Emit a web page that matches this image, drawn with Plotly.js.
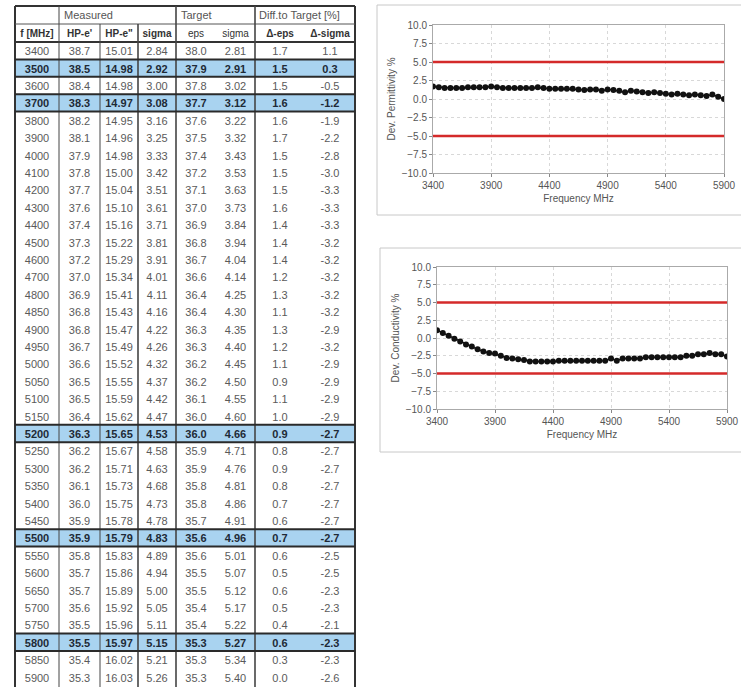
<!DOCTYPE html>
<html>
<head>
<meta charset="utf-8">
<script src="https://cdn.plot.ly/plotly-3.0.1.min.js"></script>
<style>html,body{margin:0;padding:0;background:#fff;}#chart{width:741px;height:687px;}</style>
</head>
<body>
<div id="chart"></div>
<script>
// ---------- Table data ----------
const freqs = [3400,3500,3600,3700,3800,3900,4000,4100,4200,4300,4400,4500,4600,4700,4800,
  4850,4900,4950,5000,5050,5100,5150,5200,5250,5300,5350,5400,5450,5500,5550,5600,5650,5700,5750,5800,5850,5900];
const hpE1 = [38.7,38.5,38.4,38.3,38.2,38.1,37.9,37.8,37.7,37.6,37.4,37.3,37.2,37.0,36.9,
  36.8,36.8,36.7,36.6,36.5,36.5,36.4,36.3,36.2,36.2,36.1,36.0,35.9,35.9,35.8,35.7,35.7,35.6,35.5,35.5,35.4,35.3];
const hpE2 = [15.01,14.98,14.98,14.97,14.95,14.96,14.98,15.00,15.04,15.10,15.16,15.22,15.29,15.34,15.41,
  15.43,15.47,15.49,15.52,15.55,15.59,15.62,15.65,15.67,15.71,15.73,15.75,15.78,15.79,15.83,15.86,15.89,15.92,15.96,15.97,16.02,16.03];
const sigmaMeas = [2.84,2.92,3.00,3.08,3.16,3.25,3.33,3.42,3.51,3.61,3.71,3.81,3.91,4.01,4.11,
  4.16,4.22,4.26,4.32,4.37,4.42,4.47,4.53,4.58,4.63,4.68,4.73,4.78,4.83,4.89,4.94,5.00,5.05,5.11,5.15,5.21,5.26];
const epsTarget = [38.0,37.9,37.8,37.7,37.6,37.5,37.4,37.2,37.1,37.0,36.9,36.8,36.7,36.6,36.4,
  36.4,36.3,36.3,36.2,36.2,36.1,36.0,36.0,35.9,35.9,35.8,35.8,35.7,35.6,35.6,35.5,35.5,35.4,35.4,35.3,35.3,35.3];
const sigmaTarget = [2.81,2.91,3.02,3.12,3.22,3.32,3.43,3.53,3.63,3.73,3.84,3.94,4.04,4.14,4.25,
  4.30,4.35,4.40,4.45,4.50,4.55,4.60,4.66,4.71,4.76,4.81,4.86,4.91,4.96,5.01,5.07,5.12,5.17,5.22,5.27,5.34,5.40];
const dEps = [1.7,1.5,1.5,1.6,1.6,1.7,1.5,1.5,1.5,1.6,1.4,1.4,1.4,1.2,1.3,
  1.1,1.3,1.2,1.1,0.9,1.1,1.0,0.9,0.8,0.9,0.8,0.7,0.6,0.7,0.6,0.5,0.6,0.5,0.4,0.6,0.3,0.0];
const dSigma = [1.1,0.3,-0.5,-1.2,-1.9,-2.2,-2.8,-3.0,-3.3,-3.3,-3.3,-3.2,-3.2,-3.2,-3.2,
  -3.2,-2.9,-3.2,-2.9,-2.9,-2.9,-2.9,-2.7,-2.7,-2.7,-2.7,-2.7,-2.7,-2.7,-2.5,-2.5,-2.3,-2.3,-2.1,-2.3,-2.3,-2.6];
const highlightFreqs = [3500,3700,5200,5500,5800];
const headerLabels = ["f\u00a0[MHz]","HP-e'","HP-e\"","sigma","eps","sigma","Δ-eps","Δ-sigma"];
const headerBold = [true,true,true,true,false,false,true,true];
const groupLabels = ["Measured","Target","Diff.to Target [%]"];

// ---------- Chart data (50 MHz steps) ----------
const chartFreq = [3400,3450,3500,3550,3600,3650,3700,3750,3800,3850,3900,3950,4000,4050,4100,4150,4200,4250,4300,4350,
  4400,4450,4500,4550,4600,4650,4700,4750,4800,4850,4900,4950,5000,5050,5100,5150,5200,5250,5300,5350,
  5400,5450,5500,5550,5600,5650,5700,5750,5800,5850,5900];
const devPermittivity = [1.7,1.6,1.5,1.5,1.5,1.5,1.6,1.6,1.6,1.6,1.7,1.6,1.5,1.5,1.5,1.5,1.5,1.5,1.6,1.5,
  1.4,1.4,1.4,1.4,1.4,1.3,1.2,1.3,1.3,1.1,1.3,1.2,1.1,0.9,1.1,1.0,0.9,0.8,0.9,0.8,
  0.7,0.6,0.7,0.6,0.5,0.6,0.5,0.4,0.6,0.3,0.0];
const devConductivity = [1.1,0.7,0.3,-0.1,-0.5,-0.9,-1.2,-1.6,-1.9,-2.1,-2.2,-2.5,-2.8,-2.9,-3.0,-3.1,-3.3,-3.3,-3.3,-3.3,
  -3.3,-3.2,-3.2,-3.2,-3.2,-3.2,-3.2,-3.2,-3.2,-3.2,-2.9,-3.2,-2.9,-2.9,-2.9,-2.9,-2.7,-2.7,-2.7,-2.7,
  -2.7,-2.7,-2.7,-2.5,-2.5,-2.3,-2.3,-2.1,-2.3,-2.3,-2.6];
const limitX = [3400, 5900];
const upperLimit = [5, 5];
const lowerLimit = [-5, -5];

// ---------- geometry helpers ----------
const W = 741, H = 687;
const X = px => px / W;
const Y = py => 1 - py / H;
const colEdges = [15, 59, 100, 138, 176, 216, 255, 305, 355];
const textLift = 3;                 // table text sits low in its cell; lift table so text is centred in the bands
const bandTop = 24, headH = 18, rowH = 17.4;
const dataTop = bandTop + headH;    // visual top of data rows
const FONT = "Liberation Sans, Arial, sans-serif";

const isHi = freqs.map(f => highlightFreqs.includes(f));
const fmt = (arr, d) => arr.map(v => (d === 0 ? String(v) : v.toFixed(d)));
const cols = [fmt(freqs,0), fmt(hpE1,1), fmt(hpE2,2), fmt(sigmaMeas,2), fmt(epsTarget,1), fmt(sigmaTarget,2), fmt(dEps,1), fmt(dSigma,1)];
const fontCol = cols.map(() => isHi.map(h => h ? "#1e2a36" : "#5a5a5a"));
const fontW = cols.map(() => isHi.map(h => h ? "bold" : "normal"));
const colWidths = colEdges.slice(1).map((e, i) => e - colEdges[i]);

const tableTrace = {
  type: "table",
  domain: {x: [X(colEdges[0]), X(colEdges[8])], y: [0, Y(bandTop - textLift)]},
  columnwidth: colWidths,
  header: {
    values: headerLabels,
    height: headH,
    align: "center",
    fill: {color: "rgba(0,0,0,0)"},
    line: {color: "rgba(0,0,0,0)", width: 0},
    font: {family: FONT, size: 10, color: "#333", weight: headerBold.map(b => b ? "bold" : "normal")}
  },
  cells: {
    values: cols,
    height: rowH,
    align: "center",
    fill: {color: "rgba(0,0,0,0)"},
    line: {color: "rgba(0,0,0,0)", width: 0},
    font: {family: FONT, size: 11, color: fontCol, weight: fontW}
  }
};

const lineStyle = {color: "#111", width: 1.5};
const mk = {color: "#111", size: 6, symbol: "circle"};
const red = {color: "#d42a2a", width: 2.5};

const traces = [
  tableTrace,
  {type: "scatter", mode: "lines", x: limitX, y: upperLimit, line: red, xaxis: "x", yaxis: "y", hoverinfo: "skip"},
  {type: "scatter", mode: "lines", x: limitX, y: lowerLimit, line: red, xaxis: "x", yaxis: "y", hoverinfo: "skip"},
  {type: "scatter", mode: "lines+markers", x: chartFreq, y: devPermittivity, line: lineStyle, marker: mk, xaxis: "x", yaxis: "y"},
  {type: "scatter", mode: "lines", x: limitX, y: upperLimit, line: red, xaxis: "x2", yaxis: "y2", hoverinfo: "skip"},
  {type: "scatter", mode: "lines", x: limitX, y: lowerLimit, line: red, xaxis: "x2", yaxis: "y2", hoverinfo: "skip"},
  {type: "scatter", mode: "lines+markers", x: chartFreq, y: devConductivity, line: lineStyle, marker: mk, xaxis: "x2", yaxis: "y2"}
];

const xAx = (dom, anchor) => ({
  domain: dom, anchor: anchor, range: [3400, 5900], tick0: 3400, dtick: 500,
  showgrid: true, gridcolor: "#d8d8d8", griddash: "dot", zeroline: false,
  showline: true, linecolor: "#aaaaaa", linewidth: 1, mirror: true,
  ticks: "outside", ticklen: 3, tickcolor: "#888",
  tickfont: {family: FONT, size: 10, color: "#555"},
  title: {text: "Frequency MHz", font: {family: FONT, size: 10, color: "#555"}, standoff: 4}
});
const yAx = (dom, anchor, title) => ({
  domain: dom, anchor: anchor, range: [-10, 10], tick0: -10, dtick: 2.5, tickformat: ".1f",
  showgrid: true, gridcolor: "#d8d8d8", griddash: "dot", zeroline: false,
  showline: true, linecolor: "#aaaaaa", linewidth: 1, mirror: true,
  ticks: "outside", ticklen: 3, tickcolor: "#888",
  tickfont: {family: FONT, size: 10, color: "#555"},
  title: {text: title, font: {family: FONT, size: 10, color: "#555"}, standoff: 4}
});

// ---------- table fills, lines & chart frames (shapes) ----------
const shapes = [];
const ln = (x0, y0, x1, y1, w, c) => shapes.push({type: "line", xref: "paper", yref: "paper",
  x0: X(x0), y0: Y(y0), x1: X(x1), y1: Y(y1), line: {color: c || "#333", width: w}});
const bottom = 700;
// highlight fills (behind the table text)
freqs.forEach((f, i) => {
  if (isHi[i]) {
    const t = dataTop + i * rowH, b = t + rowH;
    shapes.push({type: "rect", xref: "paper", yref: "paper", layer: "below",
      x0: X(15), x1: X(355), y0: Y(b), y1: Y(t), fillcolor: "#a9d3f0", line: {width: 0}});
  }
});
ln(15, 6, 355, 6, 2); ln(15, 6, 15, bottom, 2); ln(355, 6, 355, bottom, 2);
ln(15, bandTop, 355, bandTop, 1, "#555");
ln(15, dataTop, 355, dataTop, 2);
[59, 176, 255].forEach(x => ln(x, 6, x, bottom, x === 59 ? 1 : 1.6, "#444"));
[100, 138].forEach(x => ln(x, bandTop, x, bottom, x === 138 ? 1.6 : 1, "#444"));
freqs.forEach((f, i) => {
  if (isHi[i]) {
    const t = dataTop + i * rowH, b = t + rowH;
    ln(15, t, 355, t, 2, "#2a2a2a");
    ln(15, b, 355, b, 2, "#2a2a2a");
  }
});
shapes.push({type: "rect", xref: "paper", yref: "paper", x0: X(377), x1: X(760), y0: Y(215), y1: Y(5), line: {color: "#c8c8c8", width: 1}});
shapes.push({type: "rect", xref: "paper", yref: "paper", x0: X(380), x1: X(760), y0: Y(452), y1: Y(248), line: {color: "#c8c8c8", width: 1}});

const groupX = [62, 179, 257];
const annotations = groupLabels.map((t, i) => ({
  xref: "paper", yref: "paper", x: X(groupX[i]), y: Y(15), xanchor: "left", yanchor: "middle",
  text: t, showarrow: false, font: {family: FONT, size: 11, color: "#555"}
}));

const layout = {
  width: W, height: H, margin: {l: 0, r: 0, t: 0, b: 0},
  paper_bgcolor: "#ffffff", plot_bgcolor: "#ffffff", showlegend: false,
  xaxis: xAx([X(433), X(724)], "y"),
  yaxis: yAx([Y(173), Y(25)], "x", "Dev. Permittivity %"),
  xaxis2: xAx([X(437), X(727)], "y2"),
  yaxis2: yAx([Y(409), Y(267)], "x2", "Dev. Conductivity %"),
  shapes: shapes, annotations: annotations
};

Plotly.newPlot("chart", traces, layout, {displayModeBar: false, staticPlot: true});
</script>
</body>
</html>
